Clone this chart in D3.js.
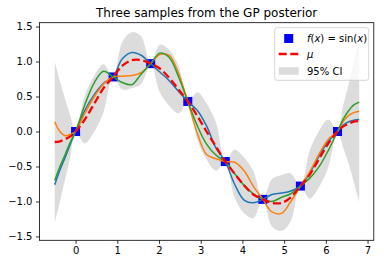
<!DOCTYPE html>
<html>
<head>
<meta charset="utf-8">
<script src="https://cdn.jsdelivr.net/npm/d3@7"></script>
<style>
  body { margin: 0; background: #fff; }
  svg { display: block; font-family: "DejaVu Sans", sans-serif; }
</style>
</head>
<body>
<div id="vis"></div>
<script>
// test inputs
var xs = [-0.5, -0.375, -0.25, -0.125, 0, 0.22, 0.45, 0.67, 0.9, 1.12, 1.35, 1.57, 1.8,
  2.02, 2.24, 2.47, 2.69, 2.92, 3.14, 3.37, 3.59, 3.81, 4.04, 4.26, 4.49, 4.71, 4.94,
  5.16, 5.39, 5.61, 5.83, 6.06, 6.28, 6.41, 6.55, 6.67, 6.8];

// posterior mean
var mu = [-0.15, -0.14, -0.11, -0.07, 0, 0.17, 0.40, 0.62, 0.78, 0.94, 1.02, 1.02, 0.97,
  0.90, 0.77, 0.60, 0.43, 0.22, 0, -0.22, -0.43, -0.60, -0.77, -0.90, -0.97, -1.02, -1.02,
  -0.94, -0.78, -0.62, -0.40, -0.17, 0, 0.07, 0.11, 0.14, 0.15];

// half width of the 95% interval (1.96 sigma)
var ci = [1.15, 0.86, 0.57, 0.29, 0, 0.34, 0.40, 0.34, 0, 0.34, 0.40, 0.34, 0,
  0.34, 0.40, 0.34, 0, 0.34, 0.40, 0.34, 0, 0.34, 0.40, 0.34, 0, 0.34, 0.40,
  0.34, 0, 0.34, 0.40, 0.34, 0, 0.29, 0.57, 0.86, 1.15];

// three samples
var sample1 = [-0.76, -0.55, -0.37, -0.18, 0, 0.30, 0.53, 0.69, 0.78, 1.04, 1.13, 1.09, 0.97,
  0.85, 0.73, 0.57, 0.43, 0.30, 0.08, -0.24, -0.43, -0.75, -0.98, -1.02, -0.97, -0.90, -0.88,
  -0.85, -0.78, -0.60, -0.36, -0.14, 0, 0.09, 0.14, 0.16, 0.17];
var sample2 = [0.14, 0.00, -0.06, -0.04, 0, 0.26, 0.50, 0.68, 0.78, 0.79, 0.80, 0.84, 0.97,
  1.10, 1.09, 0.83, 0.43, -0.03, -0.33, -0.39, -0.43, -0.44, -0.56, -0.78, -0.97, -1.15, -1.17,
  -1.00, -0.78, -0.58, -0.33, -0.11, 0, 0.14, 0.23, 0.27, 0.29];
var sample3 = [-0.70, -0.50, -0.33, -0.15, 0, 0.38, 0.70, 0.86, 0.78, 0.70, 0.67, 0.82, 0.97,
  1.12, 1.06, 0.78, 0.43, 0.08, -0.18, -0.34, -0.43, -0.60, -0.77, -0.89, -0.97, -1.00, -0.94,
  -0.89, -0.78, -0.67, -0.51, -0.27, 0, 0.17, 0.30, 0.38, 0.42];

// training points
var trainX = [0, 0.9, 1.8, 2.69, 3.59, 4.49, 5.39, 6.28];
var trainY = [0, 0.78, 0.97, 0.43, -0.43, -0.97, -0.78, 0];

var xTicks = [0, 1, 2, 3, 4, 5, 6, 7];
var yTicks = [-1.5, -1.0, -0.5, 0.0, 0.5, 1.0, 1.5];

var width = 384, height = 264;
var axLeft = 39.5, axRight = 373.8, axTop = 22.7, axBottom = 240.3;

var svg = d3.select("#vis")
  .append("svg")
  .attr("width", width)
  .attr("height", height);

var x = d3.scaleLinear().domain([-0.865, 7.15]).range([axLeft, axRight]);
var y = d3.scaleLinear().domain([-1.555, 1.555]).range([axBottom, axTop]);

var rows = xs.map(function(d, i) {
  return { x: d, mu: mu[i], ci: ci[i], s1: sample1[i], s2: sample2[i], s3: sample3[i] };
});

var plot = svg.append("g");

// band
var band = d3.area()
  .x(function(d) { return x(d.x); })
  .y0(function(d) { return y(d.mu - d.ci); })
  .y1(function(d) { return y(d.mu + d.ci); })
  .curve(d3.curveCatmullRom.alpha(0.5));

plot.append("path")
  .datum(rows)
  .attr("d", band)
  .attr("fill", "#dcdcdc");

// training points
plot.selectAll("rect.pt")
  .data(trainX)
  .enter()
  .append("rect")
  .attr("class", "pt")
  .attr("x", function(d) { return x(d) - 4.5; })
  .attr("y", function(d, i) { return y(trainY[i]) - 4.5; })
  .attr("width", 9)
  .attr("height", 9)
  .attr("fill", "#0000ff");

function lineFor(key) {
  return d3.line()
    .x(function(d) { return x(d.x); })
    .y(function(d) { return y(d[key]); })
    .curve(d3.curveCatmullRom.alpha(0.5));
}

var sampleColors = { s1: "#1f77b4", s2: "#ff7f0e", s3: "#2ca02c" };
["s1", "s2", "s3"].forEach(function(k) {
  plot.append("path")
    .datum(rows)
    .attr("d", lineFor(k))
    .attr("fill", "none")
    .attr("stroke", sampleColors[k])
    .attr("stroke-width", 1.5);
});

plot.append("path")
  .datum(rows)
  .attr("d", lineFor("mu"))
  .attr("fill", "none")
  .attr("stroke", "#ff0000")
  .attr("stroke-width", 2.3)
  .attr("stroke-dasharray", "8,3.6");

// axes
var xAxis = svg.append("g")
  .attr("transform", "translate(0," + axBottom + ")")
  .call(d3.axisBottom(x).tickValues(xTicks).tickSize(3.5).tickPadding(3.5).tickFormat(d3.format("d")));
var yAxis = svg.append("g")
  .attr("transform", "translate(" + axLeft + ",0)")
  .call(d3.axisLeft(y).tickValues(yTicks).tickSize(3.5).tickPadding(3.5).tickFormat(d3.format(".1f")));

[xAxis, yAxis].forEach(function(a) {
  a.select(".domain").remove();
  a.selectAll("line").attr("stroke", "#000").attr("stroke-width", 0.8);
  a.selectAll("text").attr("font-size", 10).attr("fill", "#000")
    .style("font-family", "DejaVu Sans");
});

svg.append("rect")
  .attr("x", axLeft)
  .attr("y", axTop)
  .attr("width", axRight - axLeft)
  .attr("height", axBottom - axTop)
  .attr("fill", "none")
  .attr("stroke", "#000")
  .attr("stroke-width", 0.8);

svg.append("text")
  .attr("x", (axLeft + axRight) / 2)
  .attr("y", 17)
  .attr("text-anchor", "middle")
  .attr("font-size", 12)
  .text("Three samples from the GP posterior");

// legend
var lg = svg.append("g");
lg.append("rect")
  .attr("x", 274.7)
  .attr("y", 27.7)
  .attr("width", 94)
  .attr("height", 52.6)
  .attr("rx", 2.5)
  .attr("fill", "#fff")
  .attr("fill-opacity", 0.8)
  .attr("stroke", "#cccccc")
  .attr("stroke-width", 0.8);

lg.append("rect")
  .attr("x", 288.7 - 4.5)
  .attr("y", 38.5 - 4.5)
  .attr("width", 9)
  .attr("height", 9)
  .attr("fill", "#0000ff");

var t1 = lg.append("text")
  .attr("x", 307)
  .attr("y", 38.5)
  .attr("dy", "0.35em")
  .attr("font-size", 10);
t1.append("tspan").attr("font-style", "italic").text("f");
t1.append("tspan").text("(");
t1.append("tspan").attr("font-style", "italic").text("x");
t1.append("tspan").text(") = sin(");
t1.append("tspan").attr("font-style", "italic").text("x");
t1.append("tspan").text(")");

lg.append("line")
  .attr("x1", 278.7)
  .attr("x2", 298.7)
  .attr("y1", 54)
  .attr("y2", 54)
  .attr("stroke", "#ff0000")
  .attr("stroke-width", 2.3)
  .attr("stroke-dasharray", "8,3.6");

lg.append("text")
  .attr("x", 307)
  .attr("y", 54)
  .attr("dy", "0.35em")
  .attr("font-size", 10)
  .attr("font-style", "italic")
  .text("μ");

lg.append("rect")
  .attr("x", 278.7)
  .attr("y", 67.3)
  .attr("width", 20)
  .attr("height", 7.5)
  .attr("fill", "#dcdcdc");

lg.append("text")
  .attr("x", 307)
  .attr("y", 71)
  .attr("dy", "0.35em")
  .attr("font-size", 10)
  .text("95% CI");
</script>
</body>
</html>
